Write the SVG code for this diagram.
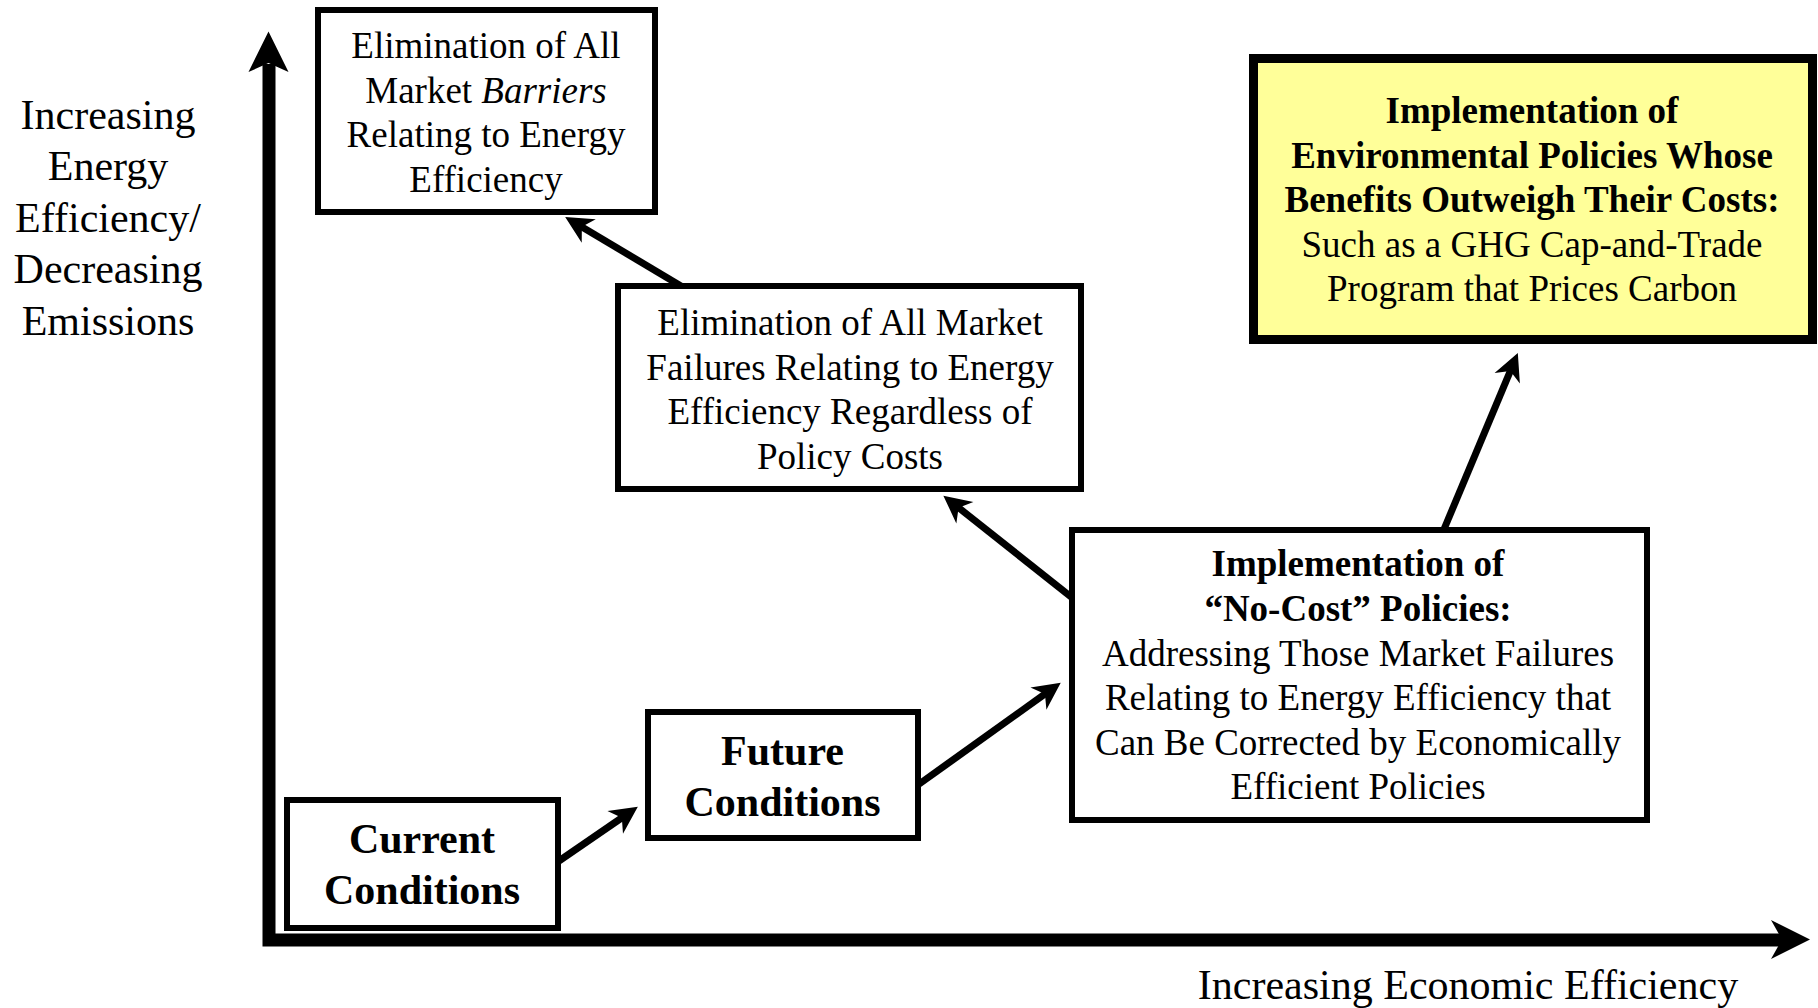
<svg xmlns="http://www.w3.org/2000/svg" width="1818" height="1008" viewBox="0 0 1818 1008">
<style>
  .box { fill: #ffffff; stroke: #000000; stroke-width: 6; }
  .yellow { fill: #ffff99; stroke: #000000; stroke-width: 9; }
  .t { font-family: "Liberation Serif", "Times New Roman", serif; font-size: 37px; fill: #000; text-anchor: middle; }
  .b { font-weight: bold; }
  .big { font-family: "Liberation Serif", "Times New Roman", serif; font-size: 42px; fill: #000; text-anchor: middle; }
  .conn { stroke: #000; stroke-width: 7; fill: none; marker-end: url(#ah); }
</style>
<defs>
  <marker id="ah" markerUnits="userSpaceOnUse" markerWidth="40" markerHeight="40" viewBox="-30 -15 35 30" refX="-15" refY="0" orient="auto" overflow="visible">
    <path d="M0,0 L-24,-12 L-17,0 L-24,12 Z" fill="#000"/>
  </marker>
</defs>
<rect width="1818" height="1008" fill="#ffffff"/>

<g id="axes">
  <path d="M269,64 L269,940 L1782,940" fill="none" stroke="#000" stroke-width="13" stroke-linejoin="miter"/>
  <polygon points="268.5,31.5 288.5,72 268.5,63 248.5,72" fill="#000"/>
  <polygon points="1810,939.5 1771,959 1782,939.5 1771,920" fill="#000"/>
  <text class="big" x="108" y="128.5">Increasing</text>
  <text class="big" x="108" y="180">Energy</text>
  <text class="big" x="108" y="231.5">Efficiency/</text>
  <text class="big" x="108" y="283">Decreasing</text>
  <text class="big" x="108" y="334.5">Emissions</text>
  <text class="big" x="1468" y="999">Increasing Economic Efficiency</text>
</g>

<g id="connectors">
  <path class="conn" d="M556,863 L623.7,816.5"/>
  <path class="conn" d="M915,787 L1046.8,692.7"/>
  <path class="conn" d="M1075,600 L956.8,506.3"/>
  <path class="conn" d="M686,289 L579.9,225.7"/>
  <path class="conn" d="M1442,534 L1511.2,368.8"/>
</g>

<g id="barriers">
  <rect class="box" x="318" y="10" width="337" height="202"/>
  <text class="t" x="486" y="58">Elimination of All</text>
  <text class="t" x="486" y="102.5">Market <tspan font-style="italic">Barriers</tspan></text>
  <text class="t" x="486" y="147">Relating to Energy</text>
  <text class="t" x="486" y="191.5">Efficiency</text>
</g>

<g id="failures">
  <rect class="box" x="618" y="286" width="463" height="203"/>
  <text class="t" x="850" y="335">Elimination of All Market</text>
  <text class="t" x="850" y="379.5">Failures Relating to Energy</text>
  <text class="t" x="850" y="424">Efficiency Regardless of</text>
  <text class="t" x="850" y="468.5">Policy Costs</text>
</g>

<g id="environmental">
  <rect class="yellow" x="1253.5" y="58.5" width="559" height="281"/>
  <text class="t b" x="1532" y="123">Implementation of</text>
  <text class="t b" x="1532" y="167.5">Environmental Policies Whose</text>
  <text class="t b" x="1532" y="212">Benefits Outweigh Their Costs:</text>
  <text class="t" x="1532" y="256.5">Such as a GHG Cap-and-Trade</text>
  <text class="t" x="1532" y="301">Program that Prices Carbon</text>
</g>

<g id="nocost">
  <rect class="box" x="1072" y="530" width="575" height="290"/>
  <text class="t b" x="1358" y="576">Implementation of</text>
  <text class="t b" x="1358" y="621">“No-Cost” Policies:</text>
  <text class="t" x="1358" y="665.5">Addressing Those Market Failures</text>
  <text class="t" x="1358" y="710">Relating to Energy Efficiency that</text>
  <text class="t" x="1358" y="754.5">Can Be Corrected by Economically</text>
  <text class="t" x="1358" y="799">Efficient Policies</text>
</g>

<g id="current">
  <rect class="box" x="287" y="800" width="271" height="128"/>
  <text class="big b" x="422" y="853">Current</text>
  <text class="big b" x="422" y="904">Conditions</text>
</g>

<g id="future">
  <rect class="box" x="648" y="712" width="270" height="126"/>
  <text class="big b" x="782.5" y="765">Future</text>
  <text class="big b" x="782.5" y="816">Conditions</text>
</g>
</svg>
